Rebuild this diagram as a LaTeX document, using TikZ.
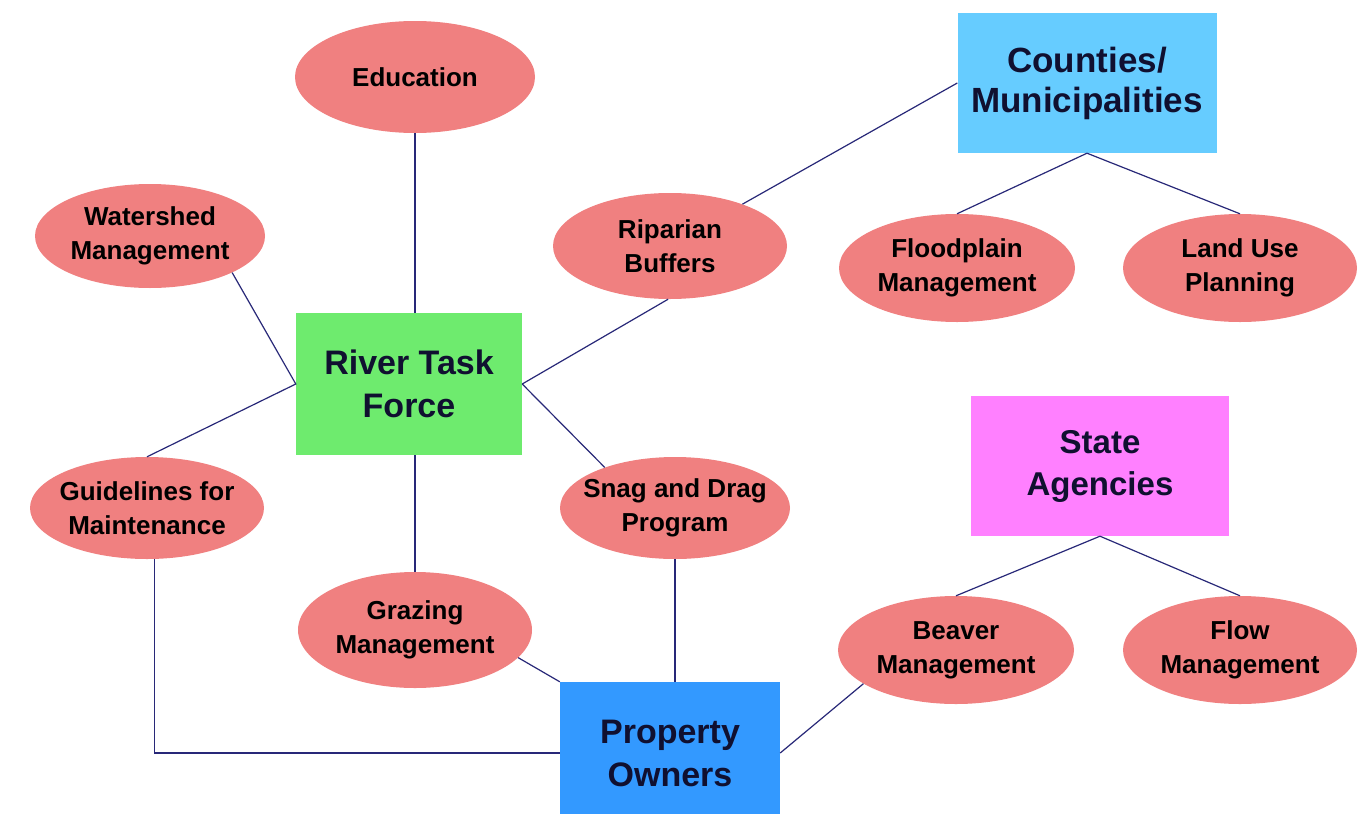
\documentclass[tikz,border=0pt]{standalone}
\usepackage{fontspec}
\setmainfont{Liberation Sans}
\usetikzlibrary{shapes.geometric}
\definecolor{ellfill}{RGB}{240,128,128}
\definecolor{rtfgreen}{RGB}{110,235,110}
\definecolor{cntblue}{RGB}{102,204,255}
\definecolor{propblue}{RGB}{51,153,255}
\definecolor{stamag}{RGB}{255,128,255}
\definecolor{linkcol}{RGB}{40,40,120}
\definecolor{boxtext}{RGB}{16,16,48}
\tikzset{
  ell/.style={ellipse, fill=ellfill, inner sep=-30pt, align=center,
    font=\fontsize{26}{34}\selectfont\bfseries, text=black},
  orgbox/.style={rectangle, inner sep=0pt, align=center, text=boxtext,
    font=\fontsize{34}{43}\selectfont\bfseries},
  link/.style={draw=linkcol, line width=1.2pt}
}
\begin{document}
\begin{tikzpicture}[x=1pt,y=-1pt]
\clip (0,0) rectangle (1366,814);
\fill[white] (0,0) rectangle (1366,814);
% boxes
\node[orgbox, fill=rtfgreen, minimum width=226, minimum height=142] (rtf) at (409,384) {River Task\\Force};
\node[orgbox, fill=cntblue, minimum width=259, minimum height=140,
  font=\fontsize{35}{40}\selectfont\bfseries] (cnt) at (1087,83) {Counties/\\Municipalities};
\node[orgbox, fill=stamag, minimum width=258, minimum height=140,
  font=\fontsize{33}{42}\selectfont\bfseries] (sta) at (1100,466) {State\\Agencies};
\node[orgbox, fill=propblue, minimum width=220, minimum height=142] (prop) at (670,753) {Property\\Owners};
% ellipses
\node[ell, minimum width=240, minimum height=112] (edu) at (415,77) {Education};
\node[ell, minimum width=230, minimum height=104] (wat) at (150,236) {Watershed\\Management};
\node[ell, minimum width=234, minimum height=106] (rip) at (670,246) {Riparian\\Buffers};
\node[ell, minimum width=236, minimum height=108] (fld) at (957,268) {Floodplain\\Management};
\node[ell, minimum width=234, minimum height=108] (lnd) at (1240,268) {Land Use\\Planning};
\node[ell, minimum width=234, minimum height=102] (gui) at (147,508) {Guidelines for\\Maintenance};
\node[ell, minimum width=230, minimum height=102] (snag) at (675,508) {Snag and Drag\\Program};
\node[ell, minimum width=234, minimum height=116] (graz) at (415,630) {Grazing\\Management};
\node[ell, minimum width=236, minimum height=108] (beav) at (956,650) {Beaver\\Management};
\node[ell, minimum width=234, minimum height=108] (flow) at (1240,650) {Flow\\Management};
% connectors
\draw[link] (edu) -- (edu |- rtf.north);
\draw[link] (wat.336) -- (rtf.west) -- (gui.north);
\draw[link] (rtf.east) -- (rip.268);
\draw[link] (rip.30) -- (cnt.west);
\draw[link] (fld.north) -- (cnt.south) -- (lnd.north);
\draw[link] (rtf.east) -- (snag.150);
\draw[link] (rtf.south -| graz) -- (graz);
\draw[link] (gui.278) |- (prop.west);
\draw[link] (snag.south) -- (snag.south |- prop.north);
\draw[link] (graz.345) -- (prop.north west);
\draw[link] (prop.east) -- (beav.200);
\draw[link] (beav.north) -- (sta.south) -- (flow.north);
\end{tikzpicture}
\end{document}
